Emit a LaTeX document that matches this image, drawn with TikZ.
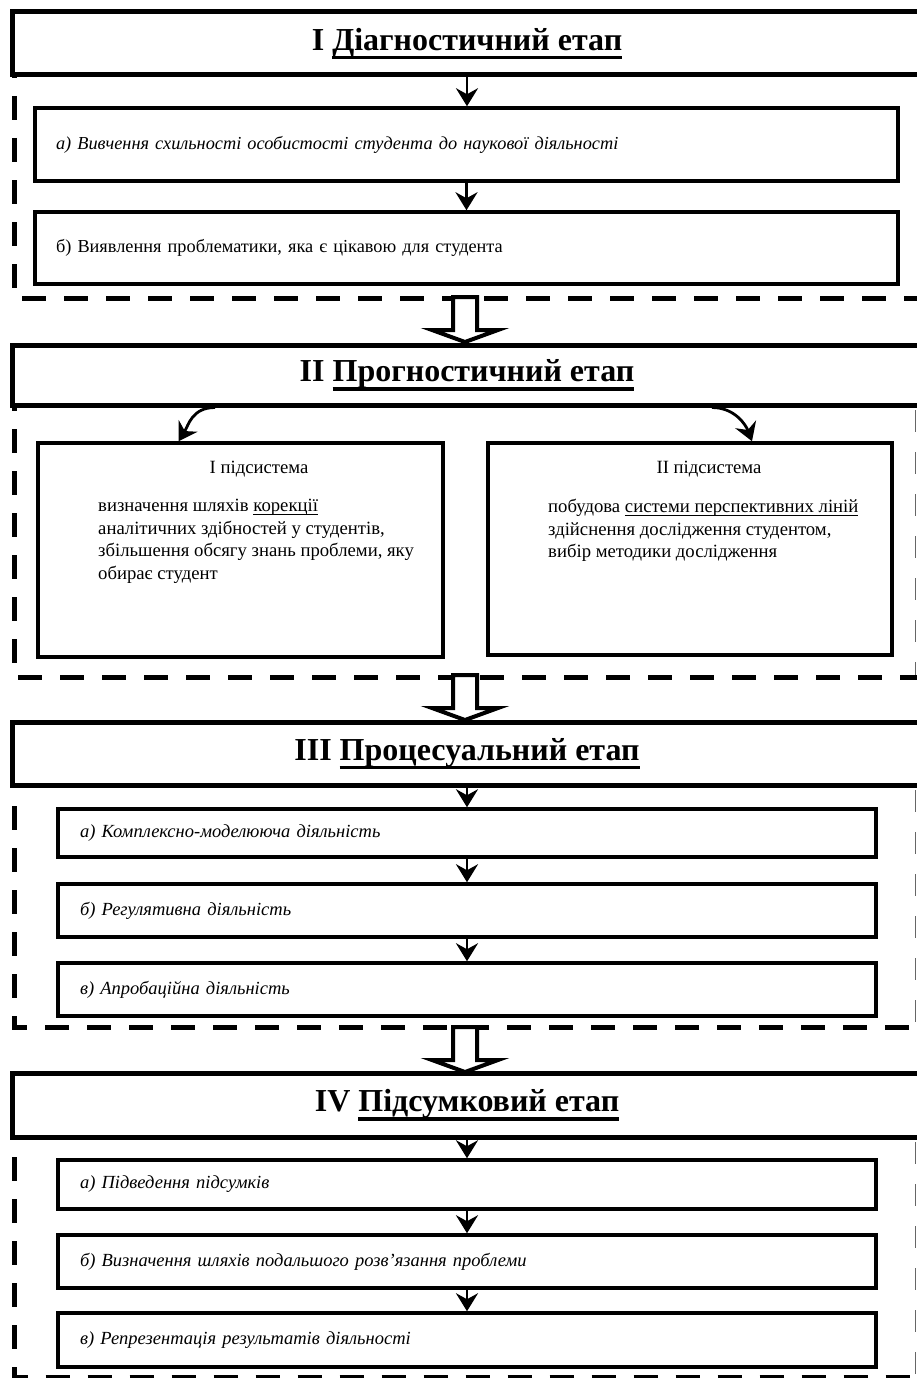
\documentclass[tikz,border=0pt]{standalone}
\usepackage{fontspec}
\setmainfont{Liberation Serif}
\usetikzlibrary{arrows.meta,calc}
\newcommand{\hul}[1]{\setbox0=\hbox{#1}\leavevmode\rlap{\rule[-9pt]{\wd0}{3.2pt}}\box0}
\newcommand{\lul}[1]{\setbox0=\hbox{#1}\leavevmode\rlap{\rule[-3.6pt]{\wd0}{0.9pt}}\box0}
\begin{document}
\begin{tikzpicture}[x=1pt,y=-1pt,
  hdr/.style={draw, line width=5pt, fill=white, minimum width=910pt, inner sep=0pt,
    font=\fontsize{32}{36}\selectfont\bfseries},
  sboxA/.style={draw, line width=3.5pt, fill=white, inner xsep=21pt, inner ysep=0pt,
    text width=821pt, align=left, font=\fontsize{18.3}{21}\selectfont},
  sboxB/.style={draw, line width=3.5pt, fill=white, inner xsep=22pt, inner ysep=0pt,
    text width=774pt, align=left, font=\fontsize{18.5}{21}\selectfont\itshape},
  pbox/.style={draw, line width=3.5pt, fill=white},
  txt/.style={inner sep=0pt, font=\fontsize{18.7}{22.5}\selectfont},
  frm/.style={line width=5pt, dash pattern=on 24pt off 18pt},
  rfrm/.style={line width=1.5pt, black!60, dash pattern=on 22pt off 20pt},
  arr/.style={line width=2.8pt, -{Stealth[length=18pt,width=22pt,inset=6pt]}},
  harrow/.pic={\draw[line width=4pt, fill=white] (-12,0) -- (-12,33) -- (-33,33) -- (0,45) -- (33,33) -- (12,33) -- (12,0) -- cycle;}
]
\useasboundingbox (0,0) rectangle (917,1378);
\clip (0,0) rectangle (917,1378);

% dashed frames
\draw[frm] (14,12) -- (14,298) -- (925,298);
\draw[frm] (14,345) -- (14,677) -- (925,677);
\draw[frm] (14,722) -- (14,1027) -- (925,1027);
\draw[frm] (14,1073) -- (14,1377.5) -- (925,1377.5);
\draw[rfrm] (915.5,410) -- (915.5,675);
\draw[rfrm] (915.5,790) -- (915.5,1025);
\draw[rfrm] (915.5,1142) -- (915.5,1378);

% Stage I
\node[hdr, minimum height=63pt] (h1) at (467,43.5) {I \hul{Діагностичний етап}};
\node[sboxA, minimum height=73pt, font=\fontsize{18.3}{21}\selectfont\itshape] (ia) at (466.5,144.5)
  {а) Вивчення схильності особистості студента до наукової діяльності};
\node[sboxA, minimum height=72pt] (ib) at (466.5,248)
  {б) Виявлення проблематики, яка є цікавою для студента};
\draw[arr] (h1.south) -- (h1.south |- ia.north);
\draw[arr] (ia.south) -- (ib.north);

% Stage II
\node[hdr, minimum height=60pt] (h2) at (467,375) {II \hul{Прогностичний етап}};
\node[pbox, minimum width=405pt, minimum height=214pt] (p1) at (240.5,550) {};
\node[pbox, minimum width=404pt, minimum height=212pt] (p2) at (690,549) {};
\node[txt] (p1t) at (259,469) {I підсистема};
\node[txt, anchor=north west, align=left] (p1b) at (98,499)
  {визначення шляхів \lul{корекції}\\аналітичних здібностей у студентів,\\збільшення обсягу знань проблеми, яку\\обирає студент};
\node[txt] (p2t) at (709,469) {II підсистема};
\node[txt, anchor=north west, align=left] (p2b) at (548,499)
  {побудова \lul{системи перспективних ліній}\\здійснення дослідження студентом,\\вибір методики дослідження};
\draw[arr] ($(h2.south)+(-252,0)$) .. controls ($(h2.south)+(-275,0)$) and ($(p1.north)+(-52,-16)$) .. ($(p1.north)+(-62,0)$);
\draw[arr] ($(h2.south)+(245,0)$) .. controls ($(h2.south)+(268,0)$) and ($(p2.north)+(56,-16)$) .. ($(p2.north)+(62,0)$);
\pic at ($(h2.north)+(-2,-45.5)$) {harrow};

% Stage III
\node[hdr, minimum height=63pt] (h3) at (467,753.5) {III \hul{Процесуальний етап}};
\node[sboxB, minimum height=48pt] (c1) at (467,833) {а) Комплексно-моделююча діяльність};
\node[sboxB, minimum height=53pt] (c2) at (467,910.5) {б) Регулятивна діяльність};
\node[sboxB, minimum height=53pt] (c3) at (467,989.5) {в) Апробаційна діяльність};
\draw[arr] (h3.south) -- (h3.south |- c1.north);
\draw[arr] (c1.south) -- (c2.north);
\draw[arr] (c2.south) -- (c3.north);
\pic at ($(h3.north)+(-2,-44.5)$) {harrow};

% Stage IV
\node[hdr, minimum height=64pt] (h4) at (467,1105) {IV \hul{Підсумковий етап}};
\node[sboxB, minimum height=49pt] (d1) at (467,1184.5) {а) Підведення підсумків};
\node[sboxB, minimum height=53pt] (d2) at (467,1261.5) {б) Визначення шляхів подальшого розв’язання проблеми};
\node[sboxB, minimum height=54pt] (d3) at (467,1340) {в) Репрезентація результатів діяльності};
\draw[arr] (h4.south) -- (h4.south |- d1.north);
\draw[arr] (d1.south) -- (d2.north);
\draw[arr] (d2.south) -- (d3.north);
\pic at ($(h4.north)+(-2,-43.5)$) {harrow};
\end{tikzpicture}
\end{document}
